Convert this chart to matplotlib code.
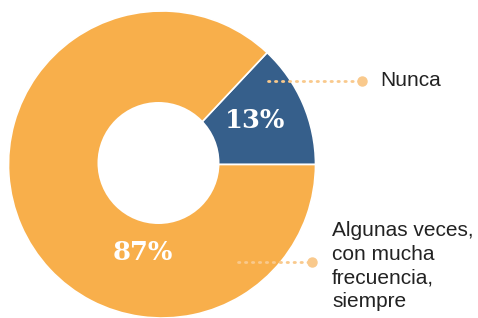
import matplotlib.pyplot as plt
from matplotlib.patches import Circle

CATEGORIAS = ["Nunca", "Algunas veces,\ncon mucha\nfrecuencia,\nsiempre"]
VALORES = [13, 87]
CORES = ["#365F8B", "#F8AF4B"]
COR_GUIA = "#F9C98C"
COR_TEXTO = "#222222"

W, H = 478, 318


def py(y):
    # converte coordenada de pixel (topo=0) para dados
    return H - y


fig = plt.figure(figsize=(W / 100, H / 100), dpi=100)
ax = fig.add_axes([0, 0, 1, 1])

ax.pie(VALORES, colors=CORES, startangle=0, counterclock=True,
       center=(162, py(164.5)), radius=153.5, frame=True,
       wedgeprops=dict(edgecolor="white", linewidth=1.2))
ax.add_patch(Circle((158.5, py(163)), 61, facecolor="white", edgecolor="none", zorder=3))
ax.set_xlim(0, W)
ax.set_ylim(0, H)
ax.axis("off")

# rótulos de percentagem
pos_pct = [(255, 121), (143, 253)]
for v, (x, y) in zip(VALORES, pos_pct):
    ax.text(x, py(y), f"{v}%", color="white", fontsize=18.5, fontweight="bold",
            family="DejaVu Serif", ha="center", va="center", zorder=4)

# linhas guia com ponto final
guias = [(268, 362, 81), (238, 312, 262)]
for x0, x1, y in guias:
    ax.plot([x0, x1], [py(y), py(y)], color=COR_GUIA, lw=2,
            linestyle=(0, (0.5, 2.0)), dash_capstyle="round", zorder=4)
    ax.plot([x1], [py(y)], "o", color=COR_GUIA, ms=6.5, zorder=4)

ax.text(380, py(80), CATEGORIAS[0], fontsize=15, color=COR_TEXTO,
        family="Liberation Sans", ha="left", va="center")
ax.text(332, py(221), CATEGORIAS[1], fontsize=15, color=COR_TEXTO,
        family="Liberation Sans", ha="left", va="top", linespacing=1.32)

fig.savefig("out.png", dpi=100)
